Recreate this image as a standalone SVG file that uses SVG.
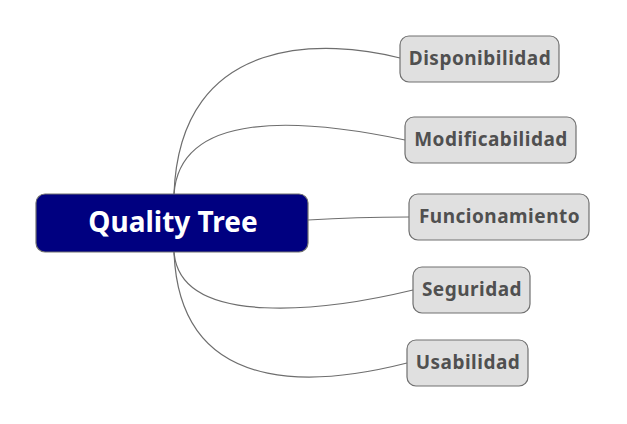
<svg xmlns="http://www.w3.org/2000/svg" width="627" height="424" viewBox="0 0 627 424">
<style>
.c{fill:none;stroke:#6e6e6e;stroke-width:1.2}
.n{fill:#e0e0e0;stroke:#707070;stroke-width:1.2}
.t{font-family:"Noto Sans","Open Sans",sans-serif;font-weight:bold;font-size:19px;letter-spacing:0.5px;fill:#505050;text-anchor:middle;dominant-baseline:central}
</style>
<rect width="627" height="424" fill="#ffffff"/>
<g id="connectors">
<path class="c" d="M174,194 C180,30 330,40 400,58"/>
<path class="c" d="M174,194 C180,110 300,118 405,140"/>
<path class="c" d="M308,220 C340,218 370,217 409,217"/>
<path class="c" d="M174,252 C180,330 330,310 413,290"/>
<path class="c" d="M174,252 C180,410 340,380 407,363"/>
</g>
<g id="root">
<rect x="36" y="194" width="272" height="58" rx="9" fill="#000080" stroke="#707070" stroke-width="1.2"/>
<text x="173" y="221" font-family="Noto Sans,Open Sans,sans-serif" font-weight="bold" font-size="28" fill="#ffffff" text-anchor="middle" dominant-baseline="central">Quality Tree</text>
</g>
<g id="disponibilidad">
<rect class="n" x="400" y="36" width="159" height="46" rx="9"/>
<text class="t" x="480" y="58">Disponibilidad</text>
</g>
<g id="modificabilidad">
<rect class="n" x="405" y="117" width="171" height="46" rx="9"/>
<text class="t" x="491" y="139">Modificabilidad</text>
</g>
<g id="funcionamiento">
<rect class="n" x="409" y="194" width="180" height="46" rx="9"/>
<text class="t" x="499.5" y="216">Funcionamiento</text>
</g>
<g id="seguridad">
<rect class="n" x="413" y="267" width="117" height="46" rx="9"/>
<text class="t" x="472" y="289">Seguridad</text>
</g>
<g id="usabilidad">
<rect class="n" x="407" y="340" width="121" height="46" rx="9"/>
<text class="t" x="468" y="362">Usabilidad</text>
</g>
</svg>
